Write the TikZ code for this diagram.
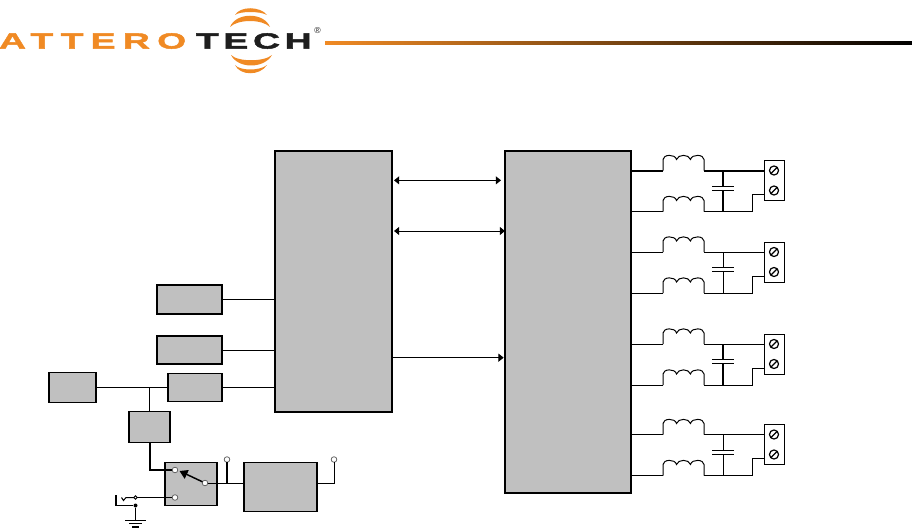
\documentclass[tikz,border=0pt]{standalone}
\usepackage{fontspec}
\setmainfont{Liberation Sans}
\newfontfamily\logofontA[FakeStretch=1.7,LetterSpace=33,FakeBold=2]{Liberation Sans Bold}
\newfontfamily\logofontB[FakeStretch=1.7,LetterSpace=21,FakeBold=2]{Liberation Sans Bold}
\usetikzlibrary{arrows.meta,positioning,calc}
\definecolor{logoorange}{HTML}{F08A24}
\definecolor{logoblack}{HTML}{1E1E1E}
\definecolor{blockgrey}{HTML}{C0C0C0}

\begin{document}
\begin{tikzpicture}[
  x=0.75pt, y=-0.75pt,
  line width=0.75pt,
  block/.style={rectangle, draw, fill=blockgrey, line width=1.1pt, outer sep=0pt, inner sep=0pt},
  termbox/.style={rectangle, draw, fill=white, minimum width=15pt, minimum height=30pt, outer sep=0pt, inner sep=0pt},
  screw/.style={circle, draw, line width=0.9pt, minimum size=6.8pt, inner sep=0pt, outer sep=0pt},
  openpin/.style={circle, draw=black!65, fill=white, line width=0.55pt, minimum size=4.2pt, inner sep=0pt, outer sep=0pt},
  smalldot/.style={circle, draw, fill=white, line width=0.6pt, minimum size=2.6pt, inner sep=0pt, outer sep=0pt},
  logoword/.style={font=\fontsize{16.5}{16.5}\selectfont, anchor=west, inner sep=0pt, outer sep=0pt},
  arr/.style={-{Triangle[length=3.9pt,width=6pt]}},
  dblarr/.style={{Triangle[length=3.9pt,width=6pt]}-{Triangle[length=3.9pt,width=6pt]}},
  inductor/.pic={
    \draw (0,0) -- (0,-11) .. controls (0,-16) and (12,-17) .. (13.5,-11)
      .. controls (15,-16.5) and (26,-16.5) .. (27.5,-11)
      .. controls (29,-17) and (41,-16) .. (41,-11) -- (41,0);
  }
]
  \useasboundingbox (0,0) rectangle (912,528);

  % logo
  \node[logoword, text=logoorange] (attero) at (-1,41) {\logofontA ATTERO};
  \node[logoword, text=logoblack] (tech) at (196,41) {\logofontB TECH};
  \node[font=\fontsize{6.5}{6.5}\selectfont, text=logoblack, inner sep=0pt] (regmark) at (317.5,31) {®};
  \fill[logoorange] (235,15) .. controls (240,6) and (260,6) .. (267,15) .. controls (260,11) and (240,11) .. (235,15);
  \fill[logoorange] (230,27) .. controls (236,12) and (264,12) .. (270,27) .. controls (262,19) and (238,19) .. (230,27);
  \fill[logoorange] (231,55) .. controls (238,69) and (264,69) .. (272,55) .. controls (264,62) and (238,62) .. (231,55);
  \fill[logoorange] (235,65) .. controls (240,76) and (260,76) .. (267,65) .. controls (260,71) and (240,71) .. (235,65);
  \shade[left color=logoorange, right color=black] (325,41.5) rectangle (912,45);

  % blocks
  \node[block, minimum width=87.75pt, minimum height=195.75pt] (dsp) at (333.5,281.5) {};
  \node[block, minimum width=94.5pt, minimum height=256.5pt, right=84.75pt of dsp.north east, anchor=north west] (amp) {};
  \node[block, minimum width=48.75pt, minimum height=21.75pt, left=39.75pt of dsp.north west, anchor=north east, yshift=-100.5pt] (inA) {};
  \node[block, minimum width=48.75pt, minimum height=21pt, below=16.5pt of inA] (inB) {};
  \node[block, minimum width=40.5pt, minimum height=21pt, below=7pt of inB.south east, anchor=north east] (reg) {};
  \node[block, minimum width=35.25pt, minimum height=22.5pt, left=54pt of reg.west] (psu) {};
  \node[block, minimum width=30.75pt, minimum height=23.25pt, below=7.5pt of reg.south west, anchor=north east, xshift=1.5pt] (conv) {};
  \node[block, minimum width=39pt, minimum height=32.25pt, below=15pt of conv.south east, anchor=north west, xshift=-3.75pt] (sw) {};
  \node[block, minimum width=54.75pt, minimum height=36.75pt, right=20.25pt of sw.north east, anchor=north west] (out) {};

  % links between blocks
  \draw (inA.east) -- (inA.east -| dsp.west);
  \draw (inB.east) -- (inB.east -| dsp.west);
  \draw (reg.east) -- (reg.east -| dsp.west);
  \draw (psu.east) -- (reg.west);
  \draw (conv.north) -- (conv.north |- psu.east);
  \draw[dblarr] ([xshift=1.5pt,yshift=-22pt]dsp.north east) -- ([xshift=-3pt,yshift=-22pt]amp.north west);
  \draw[dblarr] ([xshift=1.5pt,yshift=-60pt]dsp.north east) -- ([yshift=-60pt]amp.north west);
  \draw[arr] ([yshift=-155pt]dsp.north east) -- ([xshift=-1pt,yshift=-155pt]amp.north west);

  % switch and output
  \node[openpin] (pinA) at (175,470) {};
  \node[openpin] (pinB) at (175,497.5) {};
  \node[openpin] (pinC) at (205,483) {};
  \node[openpin] (pinL) at (227,459.5) {};
  \node[openpin] (pinR) at (334,459.5) {};
  \coordinate (tapL) at (pinL |- pinC);
  \coordinate (tapR) at (pinR |- pinC);
  \draw[line width=1.5pt] (conv.south) |- (pinA.west);
  \draw[-{Triangle[length=6pt,width=7pt]}, line width=1.1pt] (pinC) -- (179.5,471);
  \draw (pinC) -- (pinC -| out.west);
  \draw[line width=1.2pt] (tapL) -- (pinL.south);
  \draw (pinC -| out.east) -- (tapR) -- (pinR.south);

  % jack and ground
  \node[smalldot] (jackA) at (135.5,497.5) {};
  \node[circle, fill, minimum size=3pt, inner sep=0pt] (jackB) at (135.5,505.5) {};
  \coordinate (gnd) at (135.5,520);
  \draw (pinB.west) -- (jackA.east);
  \draw (jackA.west) -- (126,497.5) -- (123.5,500.5) -- (121.5,497.5);
  \draw[line width=1.1pt] (116,495) -- (116,505.5) -- (jackB.west);
  \draw (jackB) -- (gnd);
  \draw (125,520) -- (146,520);
  \draw (129,523.5) -- (142,523.5);
  \draw[line width=1.1pt] (132,527) -- (139,527);

  % speaker outputs
  \foreach \i/\y/\wtop/\wstem/\wcap in {1/170.5/1.5pt/1.3pt/0.75pt, 2/252/0.75pt/0.75pt/1.2pt, 3/344/0.75pt/1.3pt/0.75pt, 4/434.5/0.75pt/0.75pt/0.75pt} {
    \node[termbox] (term\i) at (774,\y+10) {};
    \node[screw] (scrA\i) at (774,\y) {};
    \node[screw] (scrB\i) at (774,\y+20) {};
    \draw[line width=0.9pt] (scrA\i.south west) -- (scrA\i.north east);
    \draw[line width=0.9pt] (scrB\i.south west) -- (scrB\i.north east);
    \coordinate (capA\i) at (723,\y+15.5);
    \coordinate (capB\i) at (723,\y+19.5);
    \coordinate (nodeA\i) at (723,\y);
    \coordinate (nodeB\i) at (723,\y+41);
    \draw[line width=\wtop] (amp.east |- nodeA\i) -- (663,\y);
    \pic at (663,\y) {inductor};
    \draw[line width=\wtop] (704,\y) -- (term\i.west |- nodeA\i);
    \draw (amp.east |- nodeB\i) -- (663,\y+41);
    \pic at (663,\y+41) {inductor};
    \draw (704,\y+41) -- (752,\y+41) -- (752,\y+24) -- (term\i.west |- 0,\y+24);
    \draw[line width=\wstem] (nodeA\i) -- (capA\i);
    \draw[line width=\wstem] (capB\i) -- (nodeB\i);
    \draw[line width=\wcap] ([xshift=-7.9pt]capA\i) -- ([xshift=7.9pt]capA\i);
    \draw[line width=\wcap] ([xshift=-7.9pt]capB\i) -- ([xshift=7.9pt]capB\i);
  }
\end{tikzpicture}
\end{document}
